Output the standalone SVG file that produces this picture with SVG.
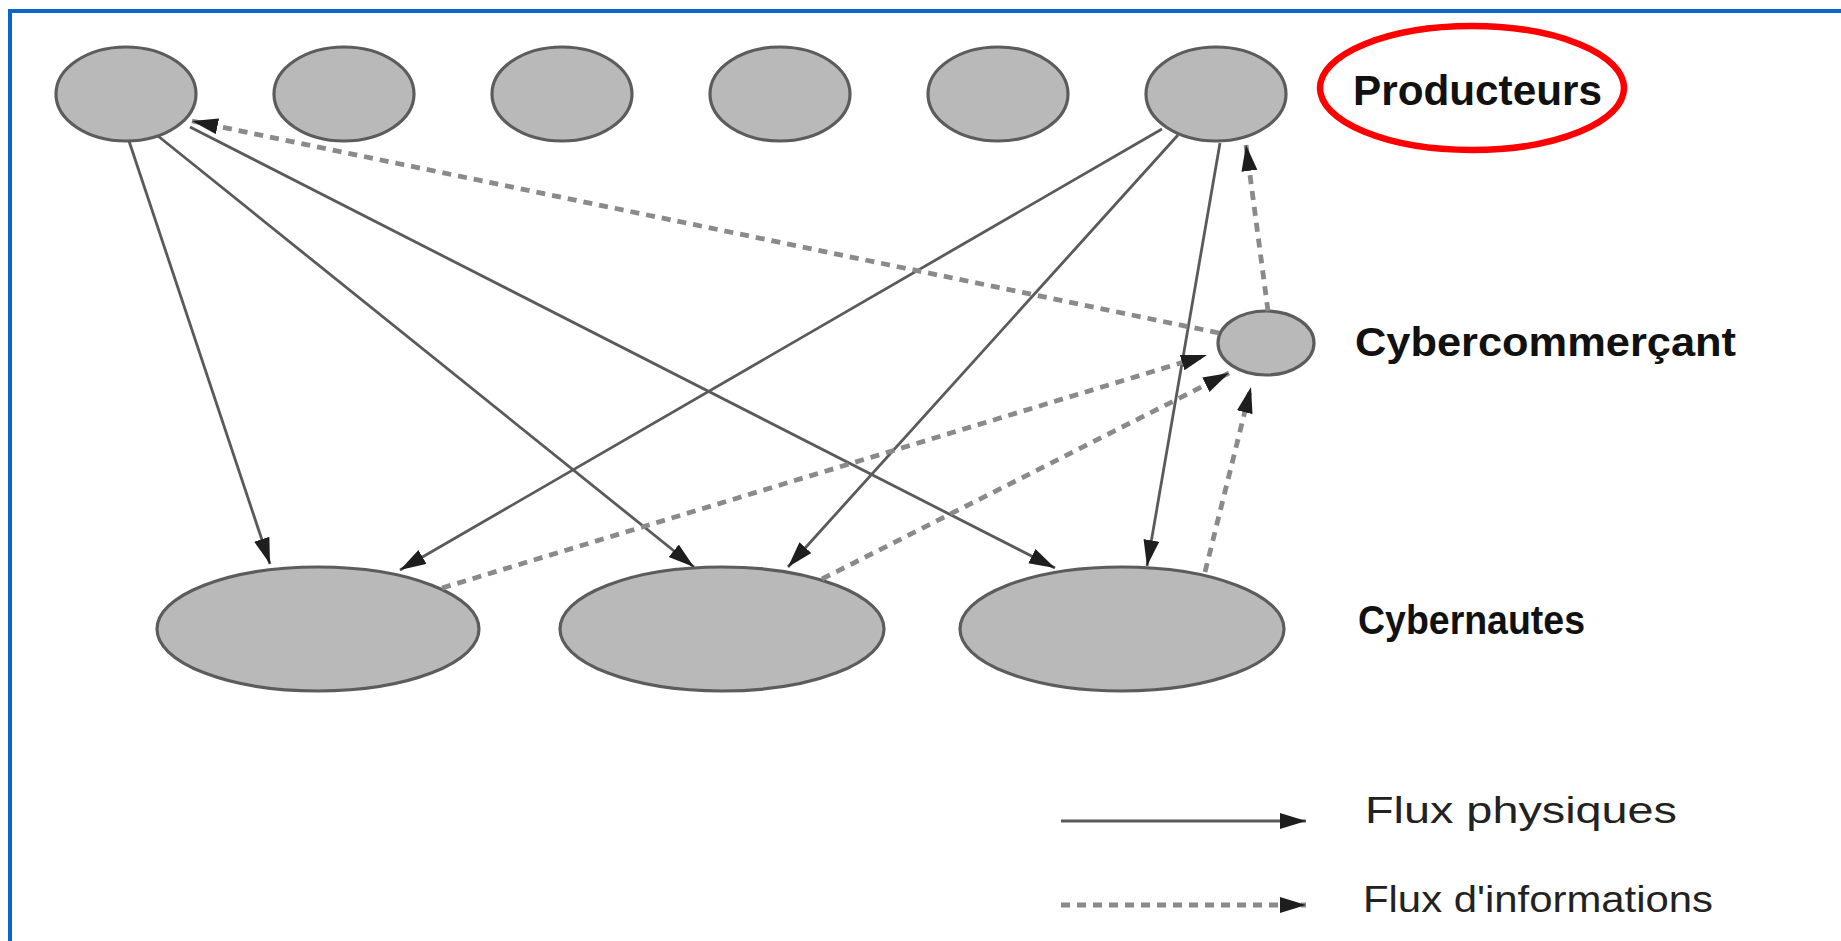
<svg xmlns="http://www.w3.org/2000/svg" width="1841" height="941" viewBox="0 0 1841 941">
<style>
.node{fill:#b9b9b9;stroke:#5c5c5c;stroke-width:3.2}
.solid{stroke:#5a5a5a;stroke-width:2.8;fill:none}
.dash{stroke:#8a8a8a;stroke-width:4.8;fill:none;stroke-dasharray:9 7}
.lbl{font-family:"Liberation Sans",Arial,sans-serif;font-weight:bold;fill:#111}
.leg{font-family:"Liberation Sans",Arial,sans-serif;fill:#222}
</style>
<defs>
<marker id="ah" markerUnits="userSpaceOnUse" markerWidth="28" markerHeight="18" refX="26" refY="8" orient="auto" viewBox="0 0 28 18">
<path d="M0,0 L26,8 L0,16 z" fill="#1e1e1e"/>
</marker>
</defs>
<rect width="1841" height="941" fill="#ffffff"/>
<path d="M10,941 V11 H1841" fill="none" stroke="#0a66cc" stroke-width="4"/>

<g id="producteurs">
<ellipse id="p1" class="node" cx="126" cy="94" rx="70" ry="47"/>
<ellipse id="p2" class="node" cx="344" cy="94" rx="70" ry="47"/>
<ellipse id="p3" class="node" cx="562" cy="94" rx="70" ry="47"/>
<ellipse id="p4" class="node" cx="780" cy="94" rx="70" ry="47"/>
<ellipse id="p5" class="node" cx="998" cy="94" rx="70" ry="47"/>
<ellipse id="p6" class="node" cx="1216" cy="94" rx="70" ry="47"/>
</g>
<g id="cybercommercant">
<ellipse class="node" cx="1266" cy="343" rx="48" ry="32"/>
</g>
<g id="cybernautes">
<ellipse id="c1" class="node" cx="318" cy="629" rx="161" ry="62"/>
<ellipse id="c2" class="node" cx="722" cy="629" rx="162" ry="62"/>
<ellipse id="c3" class="node" cx="1122" cy="629" rx="162" ry="62"/>
</g>

<g id="connectors">
<line class="solid" x1="129" y1="141" x2="270" y2="564" marker-end="url(#ah)"/>
<line class="solid" x1="158" y1="136" x2="694" y2="567" marker-end="url(#ah)"/>
<line class="solid" x1="190" y1="127" x2="1055" y2="568" marker-end="url(#ah)"/>
<line class="solid" x1="1162" y1="129" x2="400" y2="570" marker-end="url(#ah)"/>
<line class="solid" x1="1178" y1="135" x2="788" y2="567" marker-end="url(#ah)"/>
<line class="solid" x1="1220" y1="143" x2="1147" y2="566" marker-end="url(#ah)"/>
<line class="dash" x1="1219" y1="333" x2="192" y2="121" marker-end="url(#ah)"/>
<line class="dash" x1="1268" y1="311" x2="1246" y2="145" marker-end="url(#ah)"/>
<line class="dash" x1="442" y1="588" x2="1207" y2="355" marker-end="url(#ah)"/>
<line class="dash" x1="822" y1="579" x2="1229" y2="373" marker-end="url(#ah)"/>
<line class="dash" x1="1205" y1="572" x2="1251" y2="387" marker-end="url(#ah)"/>
</g>

<g id="labels">
<ellipse cx="1472" cy="88" rx="152" ry="62" fill="none" stroke="#ff0000" stroke-width="6.5"/>
<text class="lbl" x="1353" y="105" font-size="42" textLength="249" lengthAdjust="spacingAndGlyphs">Producteurs</text>
<text class="lbl" x="1355" y="356" font-size="40" textLength="381" lengthAdjust="spacingAndGlyphs">Cybercommerçant</text>
<text class="lbl" x="1358" y="634" font-size="40" textLength="227" lengthAdjust="spacingAndGlyphs">Cybernautes</text>
</g>

<g id="legende">
<line class="solid" x1="1061" y1="821" x2="1306" y2="821" marker-end="url(#ah)"/>
<line class="dash" x1="1061" y1="905" x2="1306" y2="905" marker-end="url(#ah)"/>
<text class="leg" x="1365" y="823" font-size="36" textLength="312" lengthAdjust="spacingAndGlyphs">Flux physiques</text>
<text class="leg" x="1363" y="912" font-size="36" textLength="350" lengthAdjust="spacingAndGlyphs">Flux d'informations</text>
</g>
</svg>
